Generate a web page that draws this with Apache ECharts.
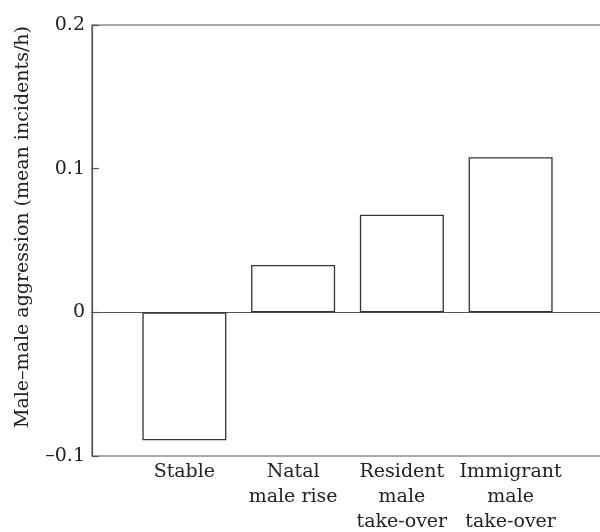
<!DOCTYPE html>
<html><head><meta charset="utf-8">
<script src="https://cdn.jsdelivr.net/npm/echarts@6/dist/echarts.min.js"></script>
<style>html,body{margin:0;padding:0;background:#fff}#c{width:600px;height:532px}</style>
</head><body><div id="c"></div>
<script>
var categories = ['Stable', 'Natal\nmale rise', 'Resident\nmale\ntake-over', 'Immigrant\nmale\ntake-over'];
var values = [-0.089, 0.033, 0.068, 0.108];
var yTicks = [-0.1, 0, 0.1, 0.2];
var yTitle = 'Male\u2013male aggression (mean incidents/h)';

var FONT = '"DejaVu Serif", "Liberation Serif", serif';
var LINE = '#555';
var chart = echarts.init(document.getElementById('c'), null, {renderer: 'canvas'});
chart.setOption({
  animation: false,
  backgroundColor: '#fff',
  grid: [
    {left: 92, right: -4, top: 25, bottom: 76, show: true, borderColor: LINE, borderWidth: 1.2,
     backgroundColor: 'transparent', outerBoundsMode: 'none', containLabel: false},
    {left: 130, right: 35, top: 25, bottom: 76, outerBoundsMode: 'none', containLabel: false}
  ],
  xAxis: [
    {gridIndex: 0, type: 'value', min: 0, max: 1, axisLine: {show: true, onZero: true, lineStyle: {color: LINE, width: 1.2}},
     axisTick: {show: false}, axisLabel: {show: false}, splitLine: {show: false}},
    {gridIndex: 1, type: 'category', data: categories, axisLine: {show: false}, axisTick: {show: false},
     axisLabel: {color: '#222', fontFamily: FONT, fontSize: 19, lineHeight: 25, margin: 4, interval: 0, align: 'center'}}
  ],
  yAxis: [
    {gridIndex: 0, type: 'value', min: yTicks[0], max: yTicks[yTicks.length - 1], interval: 0.1,
     axisLine: {show: true, lineStyle: {color: LINE, width: 1.2}},
     axisTick: {show: true, inside: true, length: 7, lineStyle: {color: LINE, width: 1.2}},
     splitLine: {show: false},
     axisLabel: {color: '#222', fontFamily: FONT, fontSize: 19, margin: 7,
       formatter: function (v) { var r = Math.round(v * 10) / 10; if (r === 0) return '0'; return (r < 0 ? '\u2013' : '') + Math.abs(r).toFixed(1); }},
     name: yTitle, nameLocation: 'middle', nameGap: 59, nameRotate: 90,
     nameTextStyle: {color: '#222', fontFamily: FONT, fontSize: 19, padding: [0, 0, 0, 27]}
    },
    {gridIndex: 1, type: 'value', min: yTicks[0], max: yTicks[yTicks.length - 1], interval: 0.1,
     show: false, splitLine: {show: false}}
  ],
  series: [{
    type: 'bar', xAxisIndex: 1, yAxisIndex: 1, data: values, barWidth: 84,
    itemStyle: {color: '#fff', borderColor: '#333', borderWidth: 1.3}
  }]
});
</script></body></html>
